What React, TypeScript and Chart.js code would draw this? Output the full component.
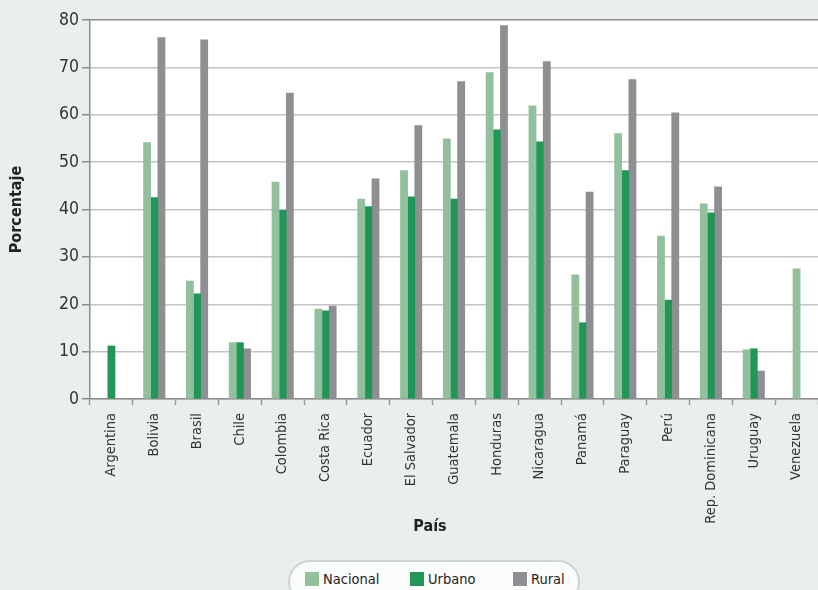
import React, { useEffect, useRef } from "react";
import { Chart, registerables } from "chart.js";

Chart.register(...registerables);

const categories = [
  "Argentina", "Bolivia", "Brasil", "Chile", "Colombia", "Costa Rica", "Ecuador",
  "El Salvador", "Guatemala", "Honduras", "Nicaragua", "Panamá", "Paraguay", "Perú",
  "Rep. Dominicana", "Uruguay", "Venezuela",
];
const nacional = [null, 54.1, 24.9, 11.9, 45.8, 19.0, 42.2, 48.2, 54.9, 68.9, 61.9, 26.2, 56.0, 34.4, 41.2, 10.4, 27.5];
const urbano = [11.2, 42.5, 22.2, 11.9, 39.8, 18.6, 40.6, 42.7, 42.2, 56.8, 54.3, 16.1, 48.2, 20.9, 39.3, 10.6, null];
const rural = [null, 76.3, 75.8, 10.6, 64.6, 19.6, 46.5, 57.7, 67.0, 78.8, 71.2, 43.7, 67.4, 60.4, 44.8, 5.9, null];
const seriesNames = ["Nacional", "Urbano", "Rural"];
const seriesColors = ["#92c09d", "#209658", "#8f8f93"];
const yMin = 0;
const yMax = 80;
const yStep = 10;
const yTitle = "Porcentaje";
const xTitle = "País";

const FONT = "'Liberation Sans Narrow', 'DejaVu Sans Condensed', 'Arial Narrow', sans-serif";

const plotBg = {
  id: "plotBg",
  beforeDraw(chart: any) {
    const { ctx, chartArea } = chart;
    ctx.save();
    ctx.fillStyle = "#ffffff";
    ctx.fillRect(chartArea.left, chartArea.top, chartArea.right - chartArea.left, chartArea.bottom - chartArea.top);
    ctx.restore();
  },
};

export default function App() {
  const ref = useRef<HTMLCanvasElement | null>(null);

  useEffect(() => {
    if (!ref.current) return;
    const series = [nacional, urbano, rural];
    const chart = new Chart(ref.current, {
      type: "bar",
      data: {
        labels: categories,
        datasets: series.map((d, i) => ({
          label: seriesNames[i],
          data: d,
          backgroundColor: seriesColors[i],
          borderWidth: 0,
          barThickness: 7.15,
        })),
      },
      options: {
        responsive: false,
        animation: false,
        skipNull: true,
        layout: { padding: { top: 20, right: 0, left: 0, bottom: 0 } },
        plugins: {
          legend: { display: false },
          tooltip: { enabled: false },
        },
        scales: {
          x: {
            afterFit: (s: any) => {
              s.height = 191;
              s.paddingRight = 0;
              s.paddingLeft = 0;
            },
            grid: {
              display: true,
              drawOnChartArea: false,
              drawTicks: true,
              tickLength: 6,
              tickColor: "#9a9a9a",
              tickWidth: 1.5,
              offset: true,
            },
            border: { display: true, color: "#8c8c8c", width: 1.5 },
            ticks: {
              autoSkip: false,
              minRotation: 90,
              maxRotation: 90,
              padding: 8,
              color: "#333333",
              font: { family: FONT, size: 14.5 },
            },
          },
          y: {
            min: yMin,
            max: yMax,
            afterFit: (s: any) => { s.width = 90; },
            ticks: {
              stepSize: yStep,
              padding: 3,
              color: "#333333",
              font: { family: FONT, size: 17.5 },
            },
            grid: {
              color: (c: any) => (c.tick && c.tick.value === yMax ? "#8c8c8c" : "#c4c4c4"),
              lineWidth: 1.5,
              drawTicks: true,
              tickLength: 8,
              tickColor: "#8c8c8c",
            },
            border: { display: true, color: "#8c8c8c", width: 1.5 },
            title: {
              display: true,
              text: yTitle,
              color: "#222222",
              font: { family: FONT, size: 16, weight: "bold" },
              padding: { top: 7, bottom: 0 },
            },
          },
        },
      },
      plugins: [plotBg],
    } as any);
    return () => chart.destroy();
  }, []);

  const itemStarts = [15, 120, 223];
  return (
    <div
      style={{
        position: "absolute",
        left: 0,
        top: 0,
        width: 818,
        height: 590,
        overflow: "hidden",
        background: "#e9f0ec",
        fontFamily: FONT,
      }}
    >
      <canvas ref={ref} width={818} height={590} style={{ display: "block" }} />
      <div
        style={{
          position: "absolute",
          left: 380,
          top: 514,
          width: 100,
          textAlign: "center",
          fontWeight: "bold",
          fontSize: 16,
          color: "#222222",
          lineHeight: "24px",
        }}
      >
        {xTitle}
      </div>
      <div
        style={{
          position: "absolute",
          left: 288,
          top: 560,
          width: 292,
          height: 44,
          borderRadius: 22,
          border: "2px solid #cfd3d1",
          background: "#fafcfb",
          boxSizing: "border-box",
        }}
      >
        {seriesNames.map((n, i) => (
          <div
            key={n}
            style={{
              position: "absolute",
              left: itemStarts[i],
              top: 9,
              display: "flex",
              alignItems: "center",
              whiteSpace: "nowrap",
            }}
          >
            <span style={{ display: "inline-block", width: 14, height: 14, background: seriesColors[i], marginRight: 4 }} />
            <span style={{ fontSize: 14.5, color: "#222222", lineHeight: "16px" }}>{n}</span>
          </div>
        ))}
      </div>
    </div>
  );
}
